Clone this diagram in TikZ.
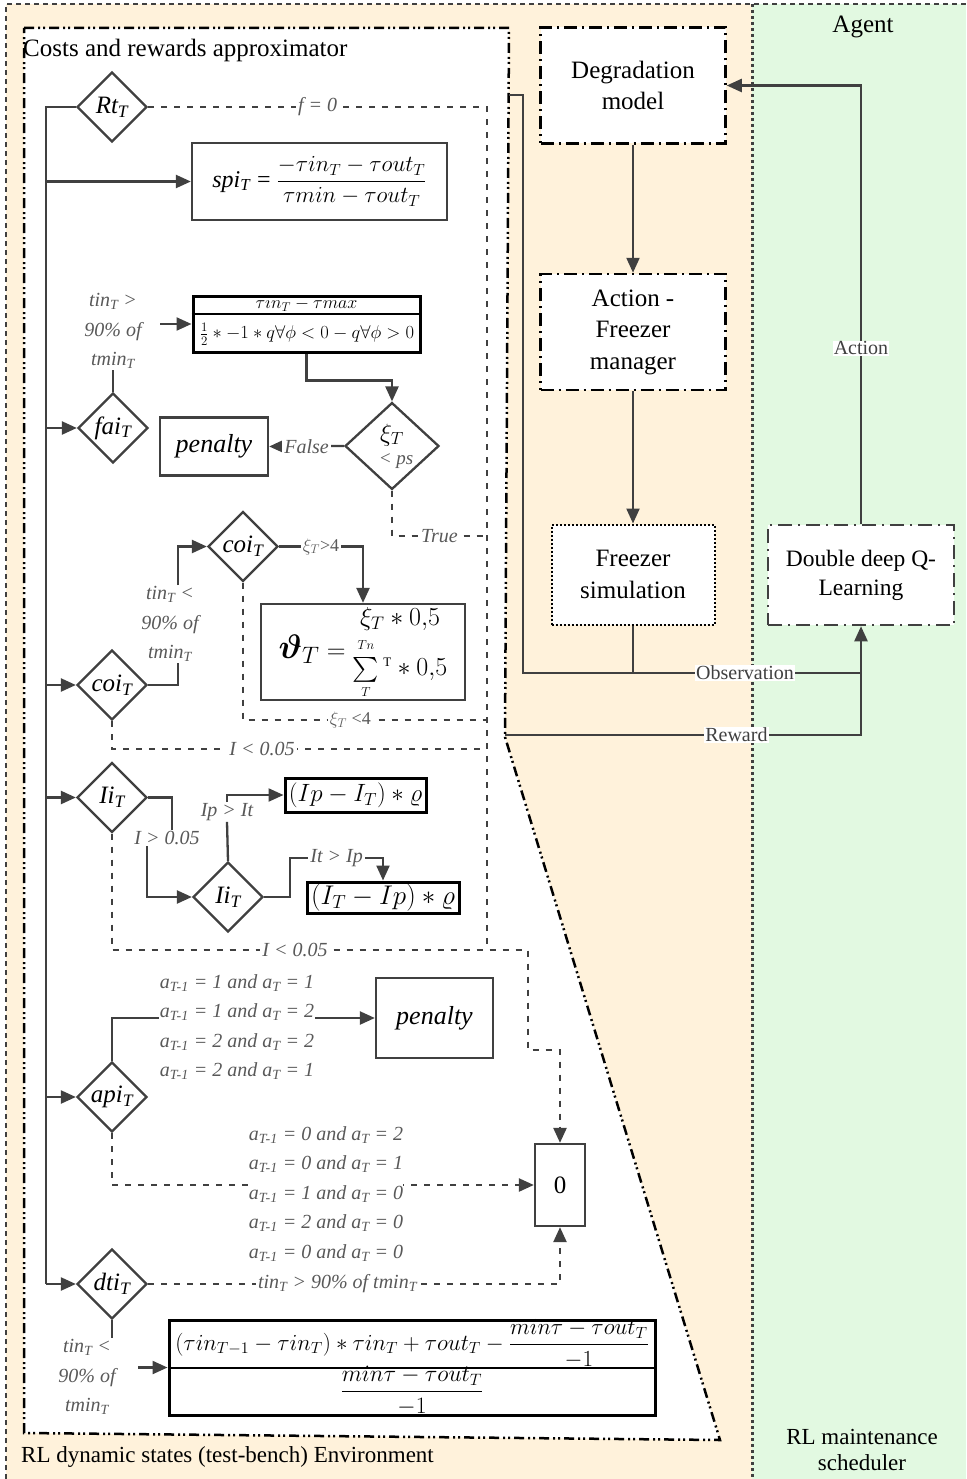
\RequirePackage{fix-cm}
\documentclass[tikz,border=0pt]{standalone}
\usepackage{amsmath}
\usepackage{fontspec}
\setmainfont{Liberation Serif}
\usetikzlibrary{arrows.meta,positioning,shapes.geometric}
\definecolor{envbg}{HTML}{FFF2DB}
\definecolor{agentbg}{HTML}{E2F9E1}
\definecolor{ink}{HTML}{404040}
\definecolor{note}{HTML}{595959}
\newcommand{\isub}[2]{\textit{#1}\textsubscript{\textit{#2}}}

\begin{document}
\begin{tikzpicture}[x=1pt,y=-1pt,>={Triangle[length=15pt,width=13pt]},font=\fontsize{25}{29}\selectfont]
  \tikzset{flow/.style={ink,line width=2.3pt},
    dashline/.style={ink,line width=2.4pt,dash pattern=on 6pt off 7pt},
    decision/.style={diamond,draw=ink,line width=2.3pt,fill=white,minimum width=70pt,minimum height=70pt,inner sep=0pt,font=\fontsize{25}{29}\selectfont\itshape},
    formbox/.style={draw=ink,line width=2.3pt,fill=white,inner sep=1pt},
    mathbox/.style={draw=black,line width=3pt,fill=white,inner sep=0pt},
    cond/.style={text=note,font=\fontsize{20}{29.5}\selectfont\itshape,align=center,inner sep=1pt},
    condw/.style={cond,fill=white,inner sep=2pt},
    envbox/.style={draw=black,line width=2.5pt,fill=white,align=center,dash pattern=on 13pt off 5pt on 2pt off 5pt,font=\fontsize{25}{31.5}\selectfont},
    tag/.style={fill=white,inner sep=1pt,font=\fontsize{20}{22}\selectfont}}
  \useasboundingbox (0,0) rectangle (966,1479);
  % environment and agent areas
  \fill[envbg] (6,4) rectangle (752,1479);
  \fill[agentbg] (752,4) rectangle (966,1479);
  \draw[ink,line width=2pt,dash pattern=on 5pt off 4pt] (6,1479) -- (6,4) -- (966,4);
  \draw[ink,line width=3pt,dash pattern=on 3pt off 3pt] (752,4) -- (752,1479);
  \filldraw[fill=white,draw=black,line width=2.5pt,dash pattern=on 10pt off 4pt on 2pt off 3pt on 2pt off 4pt] (24,28) -- (509,28) -- (505,737) -- (720,1440) -- (24,1433) -- cycle;
  \node[anchor=base west,inner sep=0pt] (costs) at (23,57) {Costs and rewards approximator};
  \node[anchor=base west,inner sep=0pt,font=\fontsize{23}{26}\selectfont] (envname) at (21,1462) {RL dynamic states (test-bench) Environment};
  \node[anchor=base,inner sep=0pt] (agent) at (863,33) {Agent};
  \node[align=center,font=\fontsize{23}{26}\selectfont] (sched) at (862,1450) {RL maintenance\\scheduler};

  % agent loop
  \node[envbox,minimum width=185pt,minimum height=116pt] (degr) at (633,85.5) {Degradation\\model};
  \node[envbox,minimum width=185pt,minimum height=116pt] (actfm) at (633,332) {Action -\\Freezer\\manager};
  \node[draw=black,line width=2pt,dash pattern=on 2pt off 2pt,fill=white,minimum width=163pt,minimum height=100pt,align=center,font=\fontsize{25}{32}\selectfont] (fsim) at (633,574.5) {Freezer\\simulation};
  \node[draw=ink,line width=2.5pt,dash pattern=on 14pt off 6pt on 2pt off 6pt,fill=white,minimum width=186pt,minimum height=100pt,align=center,font=\fontsize{23.5}{29}\selectfont] (ddq) at (861,575) {Double deep Q-\\Learning};
  \coordinate (obsin) at (509,95);
  \coordinate (obsknee) at (523,673);
  \coordinate (rewin) at (505,735);
  \draw[flow,->] (degr) -- (actfm);
  \draw[flow,->] (actfm) -- (fsim);
  \draw[flow,->] (ddq.north) |- node[tag,pos=0.2]{Action} (degr.east);
  \draw[flow] (obsin) -| (obsknee) -- node[tag,pos=0.657]{Observation} (obsknee -| ddq.south);
  \draw[flow] (fsim.south) -- (fsim.south |- obsknee);
  \draw[flow,->] (rewin) -- node[tag,pos=0.65]{Reward} (rewin -| ddq.south) -- (ddq.south);

  % costs and rewards
  \node[decision] (rt) at (112,107) {Rt\textsubscript{T}};
  \node[formbox,minimum width=255pt,minimum height=77pt,font=\fontsize{24}{28}\selectfont] (spi) at (319.5,181.5) {\isub{spi}{T} = {\fontsize{23}{27}\selectfont$\dfrac{-\tau in_T-\tau out_T}{\tau min-\tau out_T}$}};
  \node[decision] (fai) at (113,428) {fai\textsubscript{T}};
  \node[cond] (failbl) at (113,331) {tin\textsubscript{T} >\\90\% of\\tmin\textsubscript{T}};
  \node[mathbox,minimum width=227pt,minimum height=56pt] (rulebox) at (306.5,324) {};
  \node[inner sep=0pt,font=\fontsize{18}{20}\selectfont] (ruletop) at (306.5,304) {$\tau in_T-\tau max$};
  \node[inner sep=0pt,font=\fontsize{18.5}{22}\selectfont] (rulebot) at (307,334) {$\frac{1}{2}*-1*q\forall\phi<0-q\forall\phi>0$};
  \draw[black,line width=2pt] ([yshift=-19pt]rulebox.north west) -- ([yshift=-19pt]rulebox.north east);
  \node[decision,minimum width=94pt,minimum height=85pt,align=center] (xi) at (392,446) {$\xi_T$\\[-6pt]\hspace*{8pt}{\color{note}\fontsize{19}{21}\selectfont < ps}};
  \node[formbox,minimum width=108pt,minimum height=58pt,font=\fontsize{26}{30}\selectfont\itshape] (pen1) at (214,446.5) {penalty};
  \node[decision] (coi2) at (243,546.5) {coi\textsubscript{T}};
  \node[decision] (coi1) at (112,685) {coi\textsubscript{T}};
  \node[cond] (coi1lbl) at (170,624) {tin\textsubscript{T} <\\90\% of\\tmin\textsubscript{T}};
  \node[formbox,minimum width=204pt,minimum height=96pt,inner sep=0pt,font=\fontsize{26}{30}\selectfont] (theta) at (363,652) {{\fontsize{34}{36}\selectfont$\boldsymbol{\vartheta}_T$}$\;=\renewcommand{\arraystretch}{1}\begin{array}{@{}c@{}}\xi_T*0{,}5\\[3pt] \sum\limits_{\scriptscriptstyle T}^{\raisebox{3pt}{$\scriptscriptstyle Tn$}}{}^{\scriptscriptstyle\mathrm{T}}*0{,}5\end{array}$};
  \node[decision] (ii1) at (112,797.5) {Ii\textsubscript{T}};
  \node[decision] (ii2) at (228,897) {Ii\textsubscript{T}};
  \node[cond] (ii1lbl) at (167,838) {I > 0.05};
  \node[cond] (iplbl) at (227,812) {Ip > It};
  \node[mathbox,minimum width=141pt,minimum height=34pt,font=\fontsize{25}{28}\selectfont] (ipbox) at (355.5,795) {$(Ip-I_T)*\varrho$};
  \node[mathbox,minimum width=152pt,minimum height=31pt,font=\fontsize{27}{30}\selectfont] (itbox) at (383,897.5) {$(I_T-Ip)*\varrho$};
  \node[decision] (api) at (112,1097) {api\textsubscript{T}};
  \node[cond] (apilbl) at (237,1027) {a\textsubscript{T-1} = 1 and a\textsubscript{T} = 1\\a\textsubscript{T-1} = 1 and a\textsubscript{T} = 2\\a\textsubscript{T-1} = 2 and a\textsubscript{T} = 2\\a\textsubscript{T-1} = 2 and a\textsubscript{T} = 1};
  \node[formbox,minimum width=117pt,minimum height=80pt,font=\fontsize{26}{30}\selectfont\itshape] (pen2) at (434.5,1018) {penalty};
  \node[formbox,minimum width=50pt,minimum height=82pt,inner sep=0pt] (zero) at (560,1185) {0};
  \node[decision] (dti) at (112,1284) {dti\textsubscript{T}};
  \node[cond] (dtilbl) at (87,1377) {tin\textsubscript{T} <\\90\% of\\tmin\textsubscript{T}};
  \node[mathbox,minimum width=486pt,minimum height=95pt] (bigbox) at (412,1367.5) {};
  \node[inner sep=0pt,font=\fontsize{23}{25}\selectfont] (bigtop) at (412,1344) {$(\tau in_{T-1}-\tau in_T)*\tau in_T+\tau out_T-\dfrac{min\tau-\tau out_T}{-1}$};
  \node[inner sep=0pt,font=\fontsize{23.5}{25}\selectfont] (bigbot) at (412,1391) {$\dfrac{min\tau-\tau out_T}{-1}$};
  \draw[black,line width=2pt] (bigbox.west) -- (bigbox.east);

  % trunk and branches
  \coordinate (trunk) at (46,107);
  \draw[flow] (rt.west) -- (trunk) -- (trunk |- dti.west);
  \draw[flow,->] (trunk |- spi.west) -- (spi.west);
  \draw[flow,->] (trunk |- fai.west) -- (fai.west);
  \draw[flow,->] (trunk |- coi1.west) -- (coi1.west);
  \draw[flow,->] (trunk |- ii1.west) -- (ii1.west);
  \draw[flow,->] (trunk |- api.west) -- (api.west);
  \draw[flow,->] (trunk |- dti.west) -- (dti.west);

  % dashed exits to zero
  \coordinate (rcol) at (487,950);
  \coordinate (jtrue) at (487,536);
  \coordinate (jxi) at (487,720);
  \coordinate (jco) at (487,749);
  \coordinate (jii) at (528,950);
  \draw[dashline] (rt.east) -- node[condw]{f = 0} (rt.east -| rcol) -- (rcol);
  \draw[dashline] (xi.south) |- node[condw,pos=0.75]{True} (jtrue);
  \draw[dashline] (coi2.south) |- node[condw,pos=0.72,font=\fontsize{18}{20}\selectfont]{$\xi_T$ <4} (jxi);
  \draw[dashline] (coi1.south) |- node[condw,pos=0.7]{I < 0.05} (jco);
  \draw[dashline,->] (ii1.south) |- node[condw,pos=0.72]{I < 0.05} (jii) -- ++(0,100) -| (zero.north);
  \draw[dashline,->] (api.south) |- (zero.west);
  \draw[dashline,->] (dti.east) -| node[condw,pos=0.23]{tin\textsubscript{T} > 90\% of tmin\textsubscript{T}} (zero.south);
  \node[cond,fill=white,inner sep=0pt] (apilbl2) at (326,1194) {a\textsubscript{T-1} = 0 and a\textsubscript{T} = 2\\a\textsubscript{T-1} = 0 and a\textsubscript{T} = 1\\a\textsubscript{T-1} = 1 and a\textsubscript{T} = 0\\a\textsubscript{T-1} = 2 and a\textsubscript{T} = 0\\a\textsubscript{T-1} = 0 and a\textsubscript{T} = 0};

  % solid branches
  \coordinate (faiarr) at (160,324);
  \coordinate (dtiarr) at (138,1367.5);
  \draw[flow] (fai.north) -- (failbl.south);
  \draw[flow,->] (faiarr) -- (rulebox.west);
  \draw[flow,->] (rulebox.south) -- ++(0,27) -| (xi.north);
  \draw[flow,->] (xi.west) -- node[condw]{False} (pen1.east);
  \draw[flow] (coi1.east) -| ([xshift=8pt]coi1lbl.south);
  \draw[flow,->] ([xshift=8pt]coi1lbl.north) |- (coi2.west);
  \draw[flow,->] (coi2.east) -| node[condw,pos=0.25,font=\fontsize{18}{20}\selectfont]{$\xi_T$>4} (theta.north);
  \draw[flow] (ii1.east) -| ([xshift=5pt]ii1lbl.north);
  \draw[flow,->] ([xshift=-20pt]ii1lbl.south) |- (ii2.west);
  \draw[flow] (ii2.north) -- (iplbl.south);
  \draw[flow,->] (iplbl.north) |- (ipbox.west);
  \draw[flow,->] (ii2.east) -- ++(26,0) -- ++(0,-39) -| node[condw,pos=0.25]{It > Ip} (itbox.north);
  \draw[flow] (api.north) |- (apilbl.west |- pen2.west);
  \draw[flow,->] (apilbl.east |- pen2.west) -- (pen2.west);
  \draw[flow] (dti.south) -- (dti.south |- dtilbl.north);
  \draw[flow,->] (dtiarr) -- (bigbox.west);
\end{tikzpicture}
\end{document}
